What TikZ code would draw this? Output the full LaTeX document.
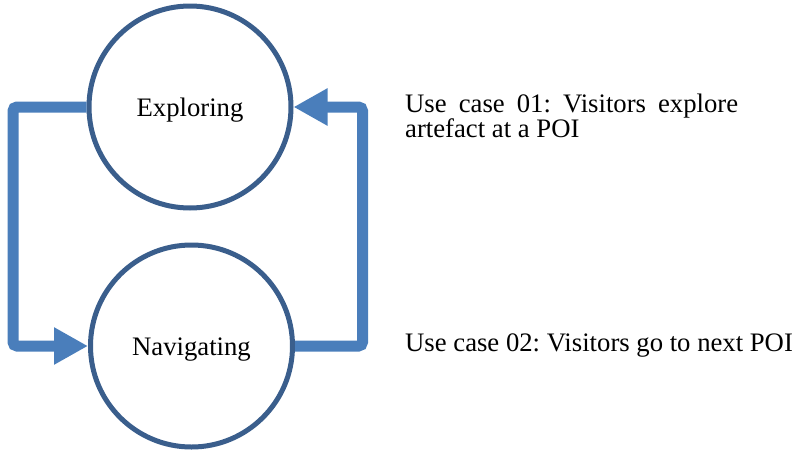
\documentclass[tikz,border=0pt]{standalone}
\usepackage{fontspec}
\setmainfont{Liberation Serif}
\usetikzlibrary{arrows.meta,positioning}

\definecolor{ringblue}{HTML}{3A5E8C}
\definecolor{flowblue}{HTML}{4A7EBB}

\begin{document}
\frenchspacing
\begin{tikzpicture}[x=1pt, y=-1pt,
    state/.style={draw=ringblue, line width=5pt, circle, minimum size=202pt, inner sep=0pt,
        font=\fontsize{26.7}{25}\selectfont, text height=18pt, text depth=0pt},
    flow/.style={draw=flowblue, line width=11pt, rounded corners=4pt,
        -{Triangle[length=34pt, width=35pt]}},
    usecase/.style={anchor=base west, inner sep=0pt, font=\fontsize{26.7}{25}\selectfont}
]
\useasboundingbox (0,0) rectangle (797,450);

% States
\node[state] (explore) at (190,107) {Exploring};
\node[state] (navigate) at (191.5,346) {Navigating};

% Rails of the loop
\coordinate (leftrail) at (13,0);
\coordinate (rightrail) at (362.5,0);

\draw[flow] (explore.west) -| (leftrail |- navigate.west) -- (navigate.west);
\draw[flow] (navigate.east) -| (rightrail |- explore.east) -- (explore.east);

% Use cases
\node[usecase, text width=333pt, align=justify] (case1) at (405,112.7)
    {\frenchspacing Use case 01: Visitors explore artefact at a POI};
\node[usecase] (case2) at (405,351)
    {\frenchspacing Use case 02: Visitors go to next POI};

\end{tikzpicture}
\end{document}
